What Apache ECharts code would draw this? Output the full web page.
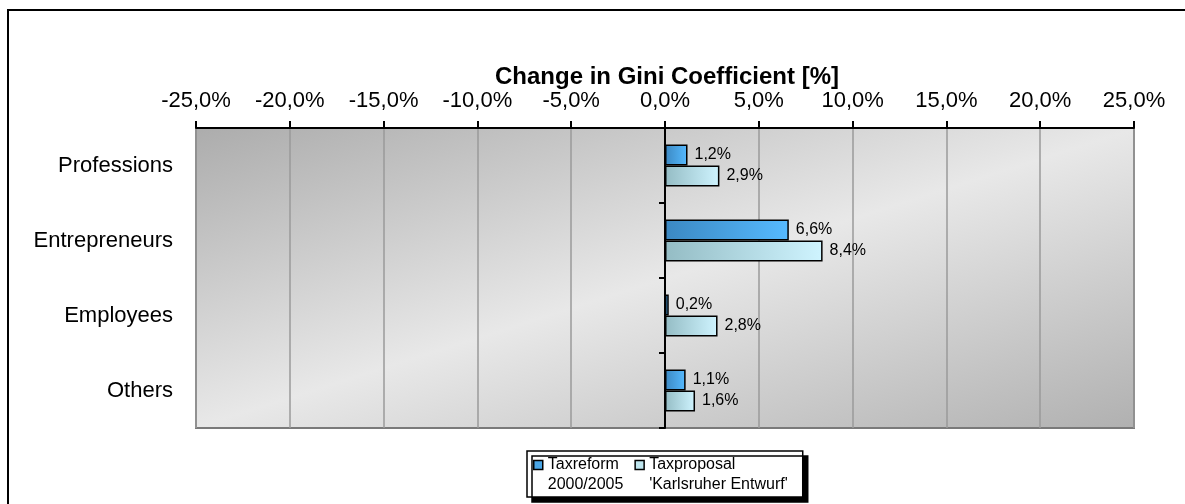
<!DOCTYPE html>
<html>
<head>
<meta charset="utf-8">
<script src="https://cdn.jsdelivr.net/npm/echarts@6/dist/echarts.min.js"></script>
<style>
  html, body { margin: 0; padding: 0; background: #fff; }
  #main { width: 1185px; height: 504px; }
</style>
</head>
<body>
<div id="main"></div>
<script>
// data
const groups = ['Professions', 'Entrepreneurs', 'Employees', 'Others'];
const taxreform = [1.2, 6.6, 0.2, 1.1];
const taxproposal = [2.9, 8.4, 2.8, 1.6];
const seriesNames = ['Taxreform\n2000/2005', "Taxproposal\n'Karlsruher Entwurf'"];
const axisMin = -25, axisMax = 25, axisStep = 5;

const FONT = '"Liberation Sans", Arial, sans-serif';

function pct(v) {
    return v.toFixed(1).replace('.', ',') + '%';
}

const chart = echarts.init(document.getElementById('main'));

const blueFill = new echarts.graphic.LinearGradient(0, 0, 1, 0, [
    { offset: 0, color: '#3b88c2' },
    { offset: 1, color: '#56baff' }
]);
const lightFill = new echarts.graphic.LinearGradient(0, 0, 1, 0, [
    { offset: 0, color: '#94bcc4' },
    { offset: 1, color: '#cff4ff' }
]);

const barLabel = {
    show: true,
    position: 'right',
    distance: 7,
    color: '#000',
    fontFamily: FONT,
    fontSize: 16,
    formatter: p => pct(p.value)
};

// square sitting on the first text line of the legend entry
const legendIcon = 'path://M0,0H9V9H0Z M0,29';

chart.setOption({
    animation: false,
    textStyle: { fontFamily: FONT },
    title: {
        text: 'Change in Gini Coefficient [%]',
        left: 662,
        textAlign: 'center',
        top: 60,
        textStyle: { fontFamily: FONT, fontSize: 24, fontWeight: 'bold', color: '#000' }
    },
    graphic: [{
        type: 'rect',
        shape: { x: 8, y: 10, width: 1250, height: 600 },
        style: { fill: null, stroke: '#000', lineWidth: 2 },
        z: 100
    }],
    grid: {
        left: 196, right: 51, top: 128, bottom: 76,
        show: true,
        borderColor: '#7a7a7a',
        borderWidth: 2,
        backgroundColor: new echarts.graphic.LinearGradient(0, 0, 0.185, 1.81, [
            { offset: 0, color: '#acacac' },
            { offset: 0.5, color: '#e8e8e8' },
            { offset: 1, color: '#b0b0b0' }
        ])
    },
    legend: {
        left: 527,
        top: 451,
        orient: 'horizontal',
        itemWidth: 9,
        itemHeight: 29,
        itemGap: 11,
        padding: [4, 15, 2, 6],
        backgroundColor: '#fff',
        borderColor: '#000',
        borderWidth: 1.5,
        borderRadius: 0,
        shadowColor: '#000',
        shadowBlur: 0,
        shadowOffsetX: 5,
        shadowOffsetY: 5,
        textStyle: { fontFamily: FONT, fontSize: 16, color: '#000', lineHeight: 20 },
        data: [
            { name: seriesNames[0], icon: legendIcon, itemStyle: { color: '#4aa6e6', borderColor: '#000', borderWidth: 1.5 } },
            { name: seriesNames[1], icon: legendIcon, itemStyle: { color: '#bfe6ef', borderColor: '#000', borderWidth: 1.5 } }
        ]
    },
    xAxis: {
        type: 'value',
        position: 'top',
        min: axisMin,
        max: axisMax,
        interval: axisStep,
        axisLine: { show: true, lineStyle: { color: '#000', width: 2 } },
        axisTick: { show: true, inside: false, length: 7, lineStyle: { color: '#000', width: 2 } },
        axisLabel: {
            margin: 16,
            color: '#000',
            fontFamily: FONT,
            fontSize: 22,
            formatter: v => pct(v)
        },
        splitLine: { show: true, lineStyle: { color: '#9a9a9a', width: 1.5 } }
    },
    yAxis: [{
        type: 'category',
        data: groups,
        inverse: true,
        axisLine: { show: false, onZero: false },
        axisTick: { show: false },
        axisLabel: { margin: 23, color: '#000', fontFamily: FONT, fontSize: 22 }
    }, {
        // axis line and ticks sitting on x = 0
        type: 'category',
        data: groups,
        inverse: true,
        position: 'left',
        axisLine: { show: true, onZero: true, lineStyle: { color: '#000', width: 2 } },
        axisTick: { show: true, length: 6, lineStyle: { color: '#000', width: 2 } },
        axisLabel: { show: false },
        splitLine: { show: false }
    }],
    series: [{
        name: seriesNames[0],
        type: 'bar',
        yAxisIndex: 0,
        data: taxreform,
        barWidth: 21,
        barGap: '0%',
        itemStyle: { color: blueFill, borderColor: '#000', borderWidth: 1.5 },
        label: barLabel,
        z: 3
    }, {
        name: seriesNames[1],
        type: 'bar',
        yAxisIndex: 0,
        data: taxproposal,
        barWidth: 21,
        barGap: '0%',
        itemStyle: { color: lightFill, borderColor: '#000', borderWidth: 1.5 },
        label: barLabel,
        z: 3
    }]
});
</script>
</body>
</html>
